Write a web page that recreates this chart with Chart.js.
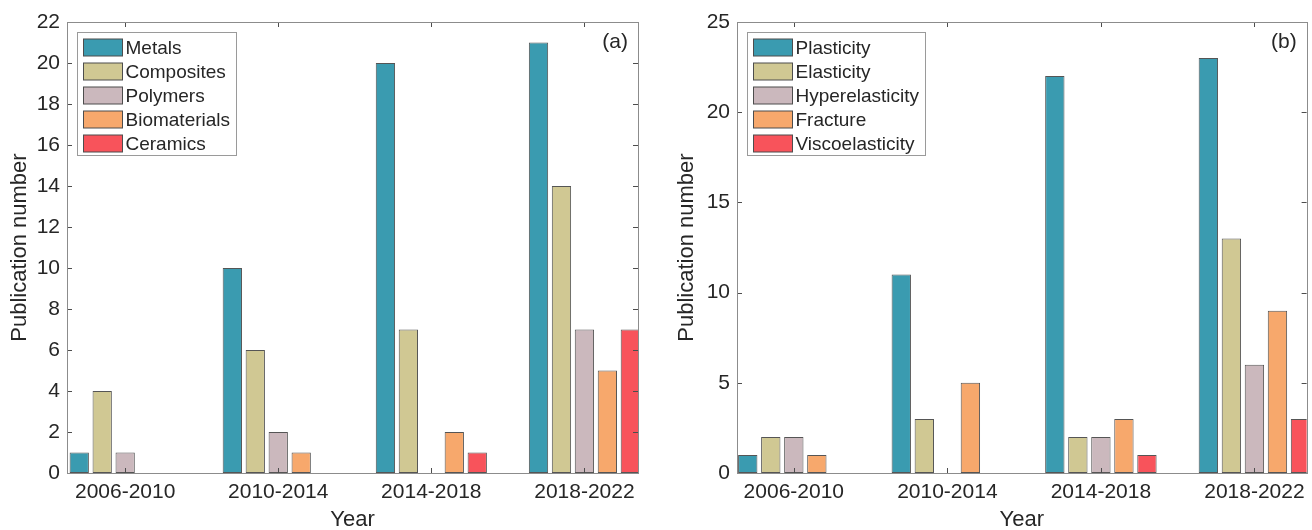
<!DOCTYPE html>
<html>
<head>
<meta charset="utf-8">
<script src="https://cdn.jsdelivr.net/npm/chart.js@4.4.1/dist/chart.umd.min.js"></script>
<style>
    html, body { margin: 0; padding: 0; background: #fff; }
    .panel { position: absolute; top: 0; width: 656px; height: 530px; }
    #left-panel { left: 0; }
    #right-panel { left: 656px; }
</style>
</head>
<body>
<div class="panel" id="left-panel"><canvas id="chart-a" width="656" height="530"></canvas></div>
<div class="panel" id="right-panel"><canvas id="chart-b" width="656" height="530"></canvas></div>
<script>
const periods = ['2006-2010', '2010-2014', '2014-2018', '2018-2022'];

// (a) materials
const materialNames = ['Metals', 'Composites', 'Polymers', 'Biomaterials', 'Ceramics'];
const metals = [1, 10, 20, 21];
const composites = [4, 6, 7, 14];
const polymers = [1, 2, 0, 7];
const biomaterials = [0, 1, 2, 5];
const ceramics = [0, 0, 1, 7];

// (b) material models
const modelNames = ['Plasticity', 'Elasticity', 'Hyperelasticity', 'Fracture', 'Viscoelasticity'];
const plasticity = [1, 11, 22, 23];
const elasticity = [2, 3, 2, 13];
const hyperelasticity = [2, 0, 2, 6];
const fracture = [1, 5, 3, 9];
const viscoelasticity = [0, 0, 1, 3];

const yTicksA = { max: 22, step: 2 };
const yTicksB = { max: 25, step: 5 };

const palette = ['#3a9bb0', '#d0c893', '#cbb8bd', '#f7a86c', '#f8535b'];
const fontFamily = '"Liberation Sans", Arial, Helvetica, sans-serif';
const textColor = '#262626';

// MATLAB-like box, inward ticks, legend inside the axes and panel tag
const frameAndLegend = {
    id: 'frameAndLegend',
    afterDatasetsDraw(chart) {
        const {ctx, chartArea: a, scales} = chart;
        const tickLen = 5;
        ctx.save();
        ctx.strokeStyle = '#4d4d4d';
        ctx.lineWidth = 1;
        ctx.beginPath();
        scales.x.ticks.forEach(t => {
            const px = Math.round(scales.x.getPixelForValue(t.value)) + 0.5;
            ctx.moveTo(px, a.bottom); ctx.lineTo(px, a.bottom - tickLen);
            ctx.moveTo(px, a.top); ctx.lineTo(px, a.top + tickLen);
        });
        scales.y.ticks.forEach(t => {
            const py = Math.round(scales.y.getPixelForValue(t.value)) + 0.5;
            ctx.moveTo(a.left, py); ctx.lineTo(a.left + tickLen, py);
            ctx.moveTo(a.right, py); ctx.lineTo(a.right - tickLen, py);
        });
        ctx.stroke();
        ctx.strokeStyle = '#8c8c8c';
        ctx.strokeRect(Math.round(a.left) + 0.5, Math.round(a.top) + 0.5,
            Math.round(a.right - a.left), Math.round(a.bottom - a.top));
        ctx.restore();
    },
    afterDraw(chart, args, opts) {
        const {ctx, chartArea: a} = chart;
        const sets = chart.data.datasets;
        ctx.save();
        ctx.font = `19px ${fontFamily}`;
        const textW = Math.max(...sets.map(d => ctx.measureText(d.label).width));
        const bx = Math.round(a.left) + 10.5;
        const by = Math.round(a.top) + 10.5;
        const bw = Math.round(6 + 39 + 4 + textW + 5);
        const bh = 123;
        ctx.fillStyle = '#fff';
        ctx.fillRect(bx, by, bw, bh);
        ctx.strokeStyle = '#9a9a9a';
        ctx.strokeRect(bx, by, bw, bh);
        sets.forEach((d, i) => {
            const cy = by + 15 + 24 * i;
            ctx.fillStyle = d.backgroundColor;
            ctx.fillRect(bx + 6, Math.round(cy - 8.5), 39, 17);
            ctx.strokeStyle = '#4d4d4d';
            ctx.strokeRect(bx + 6, Math.round(cy - 8.5), 39, 17);
            ctx.fillStyle = textColor;
            ctx.textBaseline = 'middle';
            ctx.textAlign = 'left';
            ctx.fillText(d.label, bx + 48, cy + 1);
        });
        ctx.font = `21px ${fontFamily}`;
        ctx.textAlign = 'right';
        ctx.textBaseline = 'middle';
        ctx.fillText(opts.tag, a.right - 10, a.top + 20);
        ctx.restore();
    }
};

const makeChart = (canvasId, names, series, yTicks, tag, box) => {
    return new Chart(document.getElementById(canvasId), {
        type: 'bar',
        data: {
            datasets: series.map((values, k) => ({
                label: names[k],
                data: values.map((v, i) => ({x: i + 1, y: v})),
                backgroundColor: palette[k],
                borderColor: '#555',
                borderWidth: c => (c.raw && c.raw.y ? 1 : 0),
                borderSkipped: false,
                categoryPercentage: 0.75,
                barPercentage: 0.84
            }))
        },
        plugins: [frameAndLegend],
        options: {
            responsive: false,
            animation: false,
            events: [],
            layout: { padding: { left: 0, top: 22, right: box.padRight, bottom: 0 } },
            plugins: {
                legend: { display: false },
                tooltip: { enabled: false },
                frameAndLegend: { tag: tag }
            },
            scales: {
                x: {
                    type: 'linear',
                    offset: false,
                    bounds: 'data',
                    min: box.xMin,
                    max: box.xMax,
                    afterBuildTicks: s => { s.ticks = periods.map((p, i) => ({value: i + 1})); },
                    afterFit: s => { s.height = 57; },
                    grid: { display: false, drawTicks: false },
                    border: { display: false },
                    ticks: {
                        autoSkip: false,
                        maxRotation: 0,
                        padding: 7,
                        color: textColor,
                        font: { family: fontFamily, size: 21 },
                        callback: v => periods[v - 1]
                    },
                    title: {
                        display: true,
                        text: 'Year',
                        color: textColor,
                        padding: { top: 0, bottom: -1 },
                        font: { family: fontFamily, size: 22, lineHeight: 1 }
                    }
                },
                y: {
                    min: 0,
                    max: yTicks.max,
                    afterFit: s => { s.width = box.yWidth; },
                    grid: { display: false, drawTicks: false },
                    border: { display: false },
                    ticks: {
                        stepSize: yTicks.step,
                        padding: 7,
                        color: textColor,
                        font: { family: fontFamily, size: 21 }
                    },
                    title: {
                        display: true,
                        text: 'Publication number',
                        color: textColor,
                        padding: { top: box.titlePad, bottom: 0 },
                        font: { family: fontFamily, size: 22, lineHeight: 1 }
                    }
                }
            }
        }
    });
};

makeChart('chart-a', materialNames, [metals, composites, polymers, biomaterials, ceramics],
    yTicksA, '(a)', { padRight: 18, yWidth: 67, xMin: 0.62, xMax: 4.35, titlePad: 9 });
makeChart('chart-b', modelNames, [plasticity, elasticity, hyperelasticity, fracture, viscoelasticity],
    yTicksB, '(b)', { padRight: 4, yWidth: 81, xMin: 0.63, xMax: 4.34, titlePad: 20 });
</script>
</body>
</html>
